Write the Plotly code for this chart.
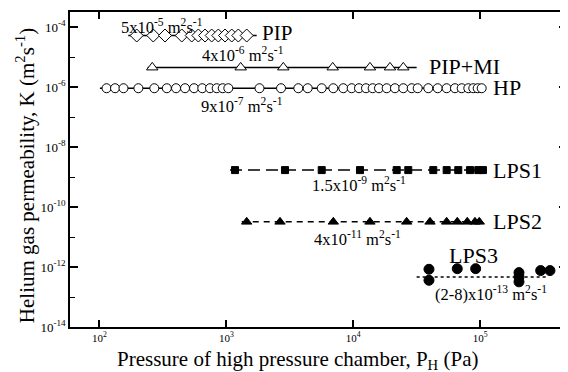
import plotly.graph_objects as go

# ---------------- data ----------------
pip_p = [197, 266, 329, 446, 534, 602, 680, 767, 865, 977, 1103, 1243, 1447]
pip_k = [5.2e-5] * len(pip_p)
pip_fit_p = [169, 1735]
pip_fit_k = [5.2e-5, 5.2e-5]

pipmi_p = [261, 1298, 2811, 6886, 13530, 19450, 24760]
pipmi_k = [4.5e-6] * len(pipmi_p)
pipmi_fit_p = [240, 31550]
pipmi_fit_k = [4.5e-6, 4.5e-6]

hp_p = [114, 133, 155, 203, 271, 340, 402, 473, 557, 647, 744, 840, 937, 1037,
        1825, 2697, 3690, 4375, 5640, 6960, 8340, 9710, 11090, 12590, 14210,
        15930, 18320, 21290, 24760, 28840, 32140, 38960, 46200, 54350, 63200,
        71400, 80500, 88100, 95400, 102600]
hp_k = [9.1e-7] * len(hp_p)
hp_fit_p = [101, 102600]
hp_fit_k = [9.1e-7, 9.1e-7]

lps1_p = [1171, 2899, 5640, 11290, 21970, 27100, 42650, 54350, 67100, 82940, 96400, 105000]
lps1_k = [1.7e-9] * len(lps1_p)
lps1_fit_p = [1069, 112300]
lps1_fit_k = [1.7e-9, 1.7e-9]

lps2_p = [1447, 2648, 6960, 13530, 26310, 40180, 54350, 65900, 79000, 90800, 98200]
lps2_k = [3.2e-11] * len(lps2_p)
lps2_fit_p = [1322, 105000]
lps2_fit_k = [3.2e-11, 3.2e-11]

lps3_p = [39450, 39450, 65900, 92000, 201800, 201800, 201800, 299000, 354000]
lps3_k = [8.4e-13, 3.6e-13, 8.8e-13, 8.8e-13, 6.5e-13, 4.6e-13, 3.2e-13, 7.6e-13, 7.6e-13]
lps3_fit_p = [31550, 333400]
lps3_fit_k = [4.6e-13, 4.6e-13]

x_tickvals = [1e2, 1e3, 1e4, 1e5]
x_ticktext = ["10<sup>2</sup>", "10<sup>3</sup>", "10<sup>4</sup>", "10<sup>5</sup>"]
y_tickvals = [1e-14, 1e-12, 1e-10, 1e-8, 1e-6, 1e-4]
y_ticktext = ["10<sup>-14</sup>", "10<sup>-12</sup>", "10<sup>-10</sup>",
              "10<sup>-8</sup>", "10<sup>-6</sup>", "10<sup>-4</sup>"]
y_minorvals = [1e-13, 1e-11, 1e-9, 1e-7, 1e-5]

FONT = "Liberation Serif"
BLK = "black"

fig = go.Figure()

def fit(px, pk, dash, width=1.5):
    fig.add_trace(go.Scatter(x=px, y=pk, mode="lines",
                             line=dict(color=BLK, width=width, dash=dash),
                             hoverinfo="skip", showlegend=False))

def pts(px, pk, symbol, size, fill, lw=1):
    fig.add_trace(go.Scatter(x=px, y=pk, mode="markers",
                             marker=dict(symbol=symbol, size=size, color=fill,
                                         line=dict(color=BLK, width=lw)),
                             showlegend=False))

fit(pip_fit_p, pip_fit_k, "solid")
pts(pip_p, pip_k, "diamond", 10, "white")
fit(pipmi_fit_p, pipmi_fit_k, "solid")
pts(pipmi_p, pipmi_k, "triangle-up", 10, "white")
fit(hp_fit_p, hp_fit_k, "solid")
pts(hp_p, hp_k, "circle", 9, "white")
fit(lps1_fit_p, lps1_fit_k, "12px,6px")
pts(lps1_p, lps1_k, "square", 7, BLK)
fit(lps2_fit_p, lps2_fit_k, "6px,5px")
pts(lps2_p, lps2_k, "triangle-up", 9, BLK)
fit(lps3_fit_p, lps3_fit_k, "dot", 1.5)
pts(lps3_p, lps3_k, "circle", 10, BLK)

def ann(x, y, text, size=16.5):
    fig.add_annotation(x=x, y=y, xref="x", yref="y", text=text, showarrow=False,
                       font=dict(family=FONT, size=size, color=BLK),
                       xanchor="center", yanchor="middle")

unit = " m<sup>2</sup>s<sup>-1</sup>"
ann(2.494, -3.977, "5x10<sup>-5</sup>" + unit)
ann(3.403, -4.21, "PIP", 21)
ann(3.128, -4.93, "4x10<sup>-6</sup>" + unit)
ann(4.872, -5.31, "PIP+MI", 22)
ann(5.214, -6.01, "HP", 22)
ann(3.124, -6.61, "9x10<sup>-7</sup>" + unit)
ann(4.045, -9.25, "1.5x10<sup>-9</sup>" + unit)
ann(5.297, -8.78, "LPS1", 22)
ann(4.031, -11.04, "4x10<sup>-11</sup>" + unit)
ann(5.297, -10.48, "LPS2", 22)
ann(4.943, -11.61, "LPS3", 22)
ann(5.084, -12.88, "(2-8)x10<sup>-13</sup>" + unit)

fig.add_annotation(x=0.458, y=-0.105, xref="paper", yref="paper",
                   text="Pressure of high pressure chamber, P<sub>H</sub> (Pa)",
                   showarrow=False, font=dict(family=FONT, size=21, color=BLK),
                   xanchor="center", yanchor="middle")
fig.add_annotation(x=-0.0905, y=0.479, xref="paper", yref="paper",
                   text="Helium gas permeability, K (m<sup>2</sup>s<sup>-1</sup>)",
                   textangle=-90, showarrow=False,
                   font=dict(family=FONT, size=21, color=BLK),
                   xanchor="center", yanchor="middle")

# the page body has an 8px margin, so the figure is 8px smaller and margins shifted
fig.update_layout(
    width=560, height=364,
    margin=dict(l=62, r=1, t=4, b=45, autoexpand=False),
    paper_bgcolor="white", plot_bgcolor="white",
    font=dict(family=FONT, color=BLK),
    showlegend=False,
    xaxis=dict(type="log", range=[1.769, 5.683], automargin=False,
               tickmode="array", tickvals=x_tickvals, ticktext=x_ticktext,
               tickfont=dict(family=FONT, size=11, color=BLK),
               ticks="inside", ticklen=7, tickwidth=1.5, tickcolor=BLK,
               showline=True, linecolor=BLK, linewidth=1.5, mirror="ticks",
               showgrid=False, zeroline=False),
    yaxis=dict(type="log", range=[-14.0, -3.5], automargin=False,
               tickmode="array", tickvals=y_tickvals, ticktext=y_ticktext,
               tickfont=dict(family=FONT, size=13, color=BLK),
               ticks="inside", ticklen=8, tickwidth=1.5, tickcolor=BLK,
               minor=dict(tickmode="array", tickvals=y_minorvals,
                          ticks="inside", ticklen=5, tickwidth=1.2,
                          tickcolor=BLK, showgrid=False),
               showline=True, linecolor=BLK, linewidth=1.5, mirror="ticks",
               showgrid=False, zeroline=False),
)

fig.write_html("out.html")
